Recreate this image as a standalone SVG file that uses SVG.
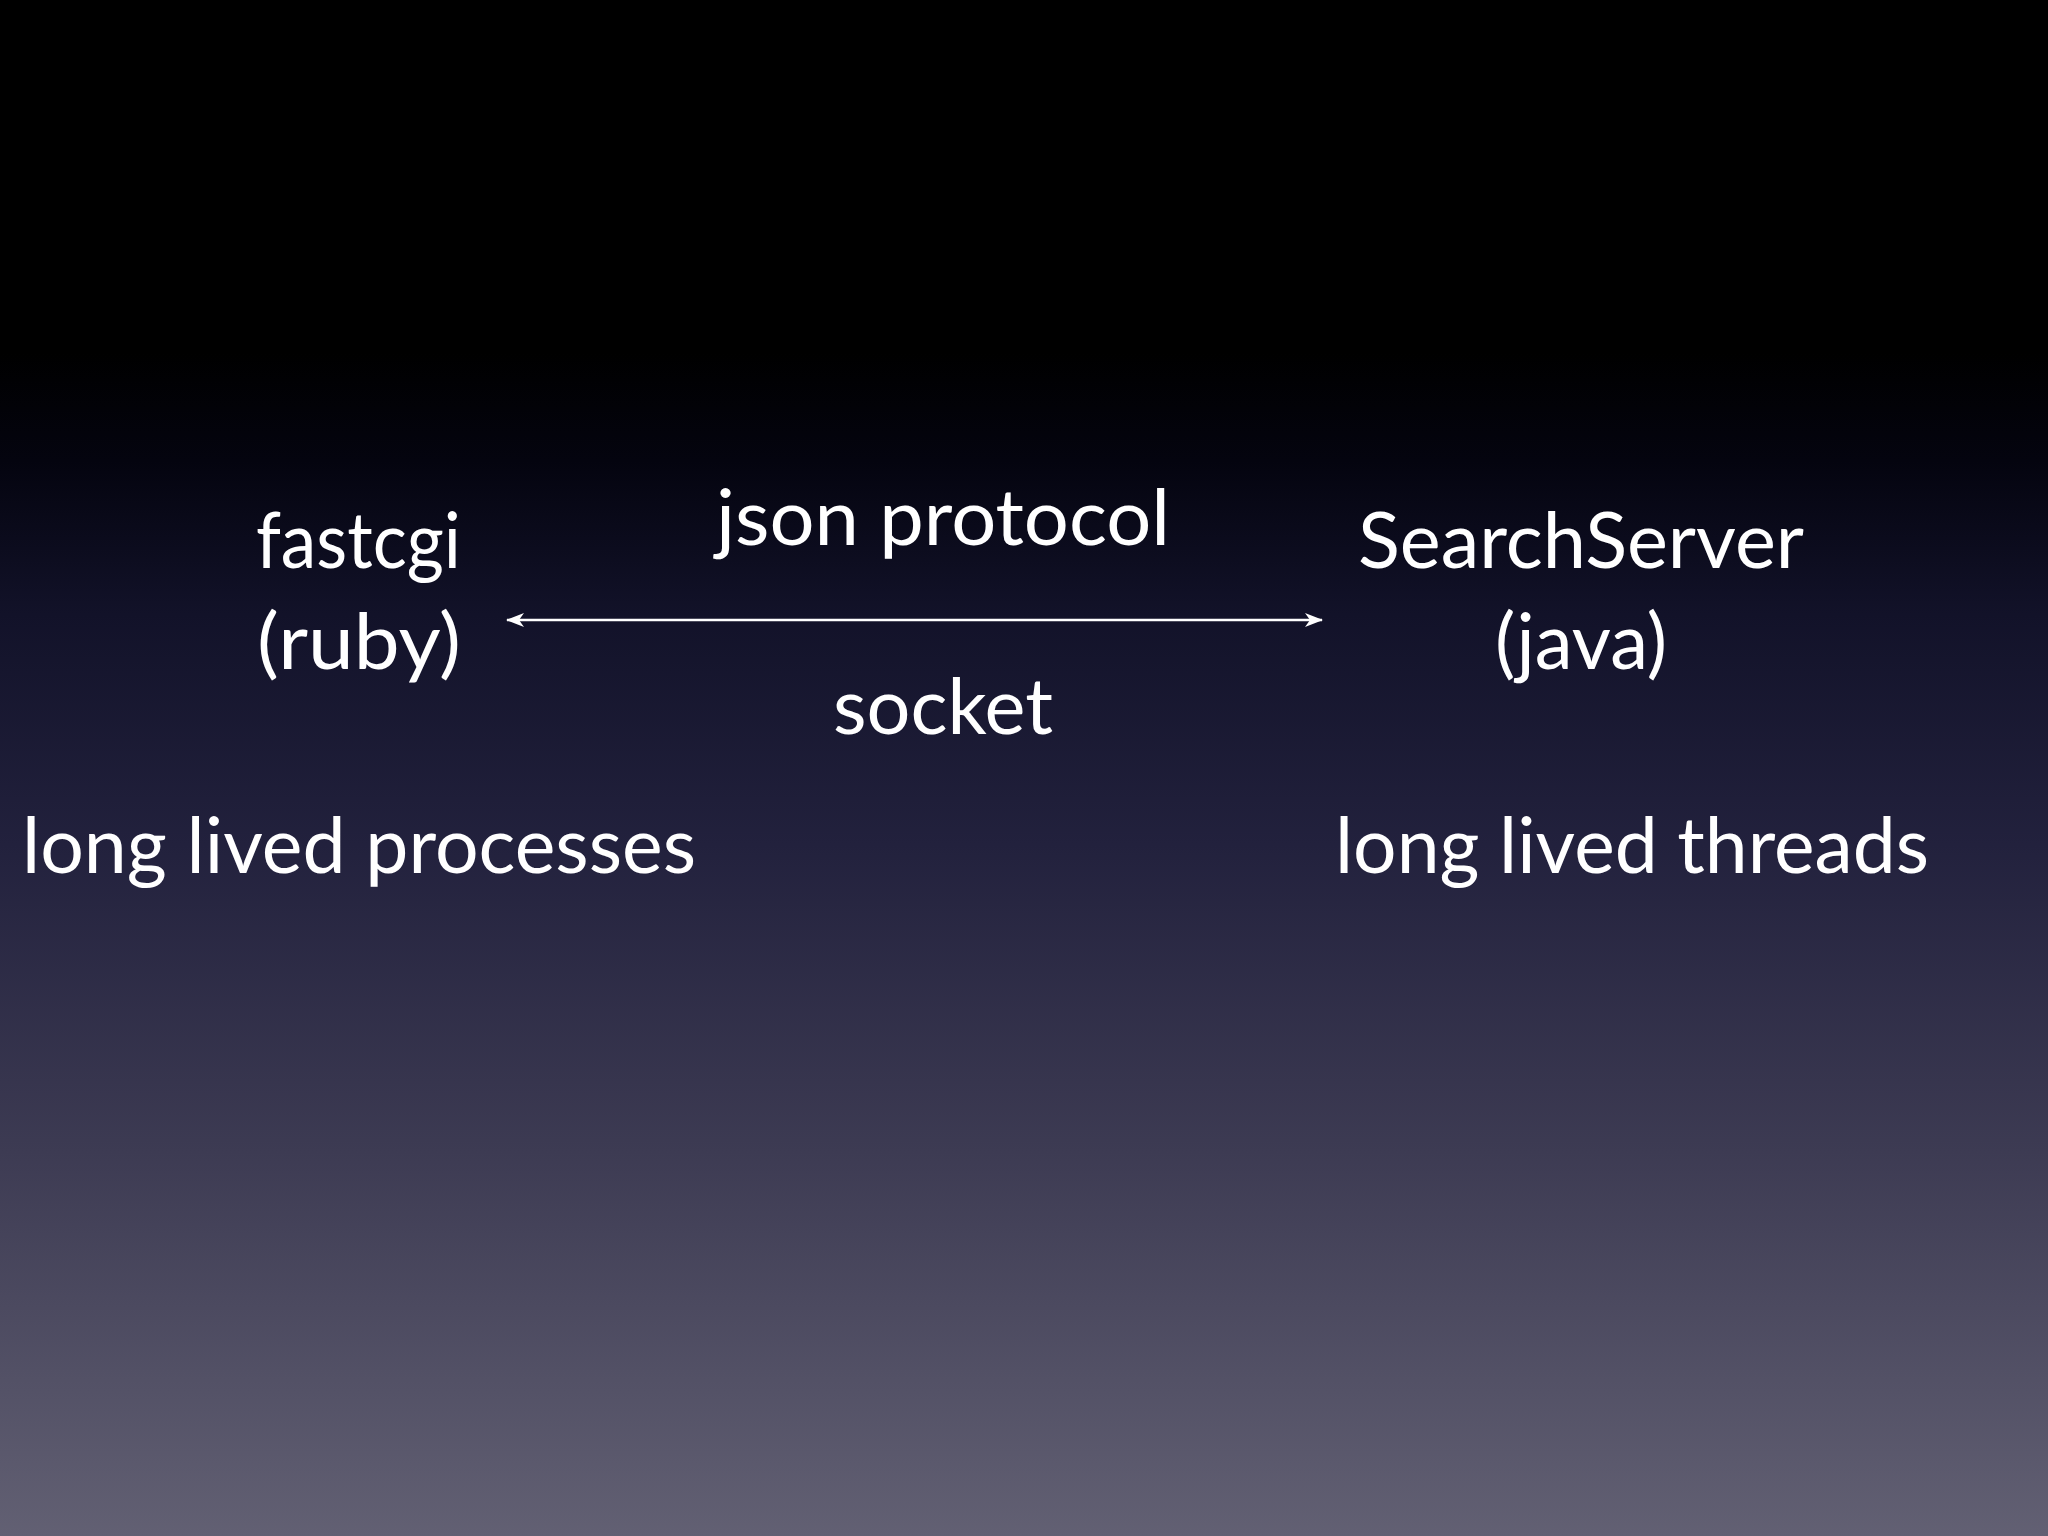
<svg xmlns="http://www.w3.org/2000/svg" width="2048" height="1536" viewBox="0 0 2048 1536">
  <defs>
    <linearGradient id="bg" x1="0" y1="0" x2="0" y2="1">
      <stop offset="0" stop-color="#000000"/>
      <stop offset="0.23" stop-color="#000000"/>
      <stop offset="0.3" stop-color="#04040f"/>
      <stop offset="0.4" stop-color="#121229"/>
      <stop offset="0.55" stop-color="#22213d"/>
      <stop offset="0.75" stop-color="#3d3b53"/>
      <stop offset="1" stop-color="#626073"/>
    </linearGradient>
    <marker id="ah" viewBox="0 0 18 14" refX="17" refY="7" markerWidth="18" markerHeight="14" markerUnits="userSpaceOnUse" orient="auto-start-reverse">
      <path d="M0,0 L18,7 L0,14 L5,7 Z" fill="#ffffff"/>
    </marker>
    <style>
      .t { font-family: "Lato", "Open Sans", "DejaVu Sans", sans-serif; font-size: 78px; fill: #ffffff; }
      .conn { stroke: #ffffff; stroke-width: 2.4; fill: none; }
    </style>
  </defs>
  <rect x="0" y="0" width="2048" height="1536" fill="url(#bg)"/>

  <g id="connectors">
    <line class="conn" x1="507" y1="620" x2="1322" y2="620" marker-start="url(#ah)" marker-end="url(#ah)"/>
    <text class="t" x="716" y="545" textLength="454" lengthAdjust="spacingAndGlyphs">json protocol</text>
    <text class="t" x="833" y="734" textLength="220" lengthAdjust="spacingAndGlyphs">socket</text>
  </g>

  <g id="fastcgi">
    <text class="t" x="256" y="568" textLength="205" lengthAdjust="spacingAndGlyphs">fastcgi</text>
    <text class="t" x="257" y="669" textLength="204" lengthAdjust="spacingAndGlyphs">(ruby)</text>
  </g>

  <g id="searchserver">
    <text class="t" x="1358" y="568" textLength="446" lengthAdjust="spacingAndGlyphs">SearchServer</text>
    <text class="t" x="1495" y="669" textLength="172" lengthAdjust="spacingAndGlyphs">(java)</text>
  </g>

  <g id="processes">
    <text class="t" x="22" y="873" textLength="674" lengthAdjust="spacingAndGlyphs">long lived processes</text>
  </g>

  <g id="threads">
    <text class="t" x="1335" y="873" textLength="594" lengthAdjust="spacingAndGlyphs">long lived threads</text>
  </g>
</svg>
